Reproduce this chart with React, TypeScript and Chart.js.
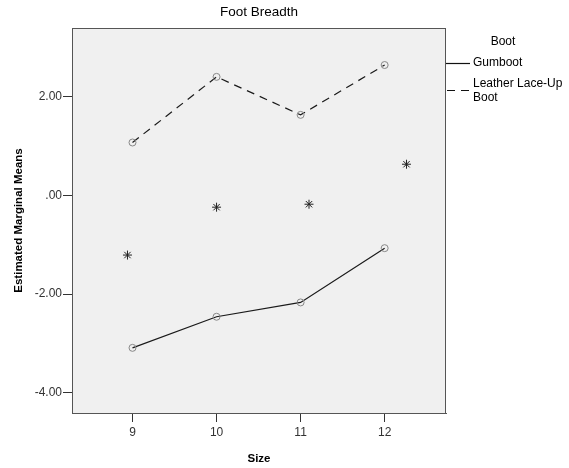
import React, { useEffect, useRef } from "react";
import { Chart, registerables } from "chart.js";

Chart.register(...registerables);

const chartTitle = "Foot Breadth";
const xAxisTitle = "Size";
const yAxisTitle = "Estimated Marginal Means";
const legendTitle = "Boot";
const seriesNames = ["Gumboot", "Leather Lace-Up Boot"];

const sizes = [9, 10, 11, 12];
const gumboot = [-3.09, -2.46, -2.17, -1.07];
const leather = [1.07, 2.4, 1.63, 2.64];
const markerX = [8.94, 10.0, 11.1, 12.26];
const markerY = [-1.21, -0.24, -0.18, 0.63];
const xTicks = [9, 10, 11, 12];
const yTicks = [-4, -2, 0, 2];
const xRange = [8.28, 12.73];
const yRange = [-4.41, 3.39];

const FONT = '"Liberation Sans", Arial, sans-serif';

function fmtY(v: number): string {
  const s = Math.abs(v).toFixed(2);
  const t = s.startsWith("0") ? s.slice(1) : s;
  return (v < 0 ? "-" : "") + t;
}

const decorPlugin = {
  id: "decor",
  beforeDraw(chart: any) {
    const { ctx, chartArea } = chart;
    ctx.save();
    ctx.fillStyle = "#ffffff";
    ctx.fillRect(0, 0, chart.width, chart.height);
    ctx.fillStyle = "#f0f0f0";
    ctx.fillRect(chartArea.left, chartArea.top, chartArea.right - chartArea.left, chartArea.bottom - chartArea.top);
    ctx.restore();
  },
  afterDraw(chart: any) {
    const { ctx, chartArea } = chart;
    ctx.save();
    // plot border
    ctx.strokeStyle = "#555555";
    ctx.lineWidth = 1;
    ctx.strokeRect(chartArea.left + 0.5, chartArea.top + 0.5, chartArea.right - chartArea.left - 1, chartArea.bottom - chartArea.top);
    // title
    ctx.fillStyle = "#000";
    ctx.font = `13.5px ${FONT}`;
    ctx.textAlign = "center";
    ctx.textBaseline = "middle";
    ctx.fillText(chartTitle, (chartArea.left + chartArea.right) / 2, 12);
    // legend
    const lx = chartArea.right;
    ctx.font = `12px ${FONT}`;
    ctx.fillText(legendTitle, lx + 57, 42);
    ctx.textAlign = "left";
    ctx.strokeStyle = "#111";
    ctx.lineWidth = 1.2;
    ctx.beginPath();
    ctx.moveTo(lx, 63.5);
    ctx.lineTo(lx + 24, 63.5);
    ctx.stroke();
    ctx.fillText(seriesNames[0], lx + 27, 63);
    ctx.setLineDash([8, 6]);
    ctx.beginPath();
    ctx.moveTo(lx + 1, 90.5);
    ctx.lineTo(lx + 24, 90.5);
    ctx.stroke();
    ctx.setLineDash([]);
    ctx.fillText("Leather Lace-Up", lx + 27, 84);
    ctx.fillText("Boot", lx + 27, 98);
    ctx.restore();
  },
};

export default function App() {
  const ref = useRef<HTMLCanvasElement | null>(null);
  useEffect(() => {
    if (!ref.current) return;
    const chart = new Chart(ref.current, {
      type: "line",
      data: {
        datasets: [
          {
            label: seriesNames[0],
            data: sizes.map((x, i) => ({ x, y: gumboot[i] })),
            borderColor: "#1a1a1a",
            borderWidth: 1.2,
            pointStyle: "circle",
            pointRadius: 3.5,
            pointBorderColor: "#888",
            pointBackgroundColor: "rgba(0,0,0,0)",
            pointBorderWidth: 1,
            tension: 0,
          },
          {
            label: seriesNames[1],
            data: sizes.map((x, i) => ({ x, y: leather[i] })),
            borderColor: "#1a1a1a",
            borderWidth: 1.2,
            borderDash: [8, 6],
            pointStyle: "circle",
            pointRadius: 3.5,
            pointBorderColor: "#888",
            pointBackgroundColor: "rgba(0,0,0,0)",
            pointBorderWidth: 1,
            tension: 0,
          },
          {
            label: "markers",
            data: markerX.map((x, i) => ({ x, y: markerY[i] })),
            showLine: false,
            pointStyle: "star",
            pointRadius: 4.5,
            pointBorderColor: "#222",
            pointBorderWidth: 1,
            borderColor: "#222",
          },
        ],
      },
      options: {
        responsive: false,
        animation: false,
        layout: { padding: { left: 0, right: 123, top: 28, bottom: 0 } },
        plugins: { legend: { display: false }, tooltip: { enabled: false }, title: { display: false } },
        scales: {
          x: {
            type: "linear",
            min: xRange[0],
            max: xRange[1],
            afterBuildTicks: (s: any) => {
              s.ticks = xTicks.map((v) => ({ value: v }));
            },
            afterFit: (s: any) => {
              s.height = 55;
            },
            ticks: {
              color: "#333",
              font: { family: FONT, size: 12 },
              padding: 3,
              maxRotation: 0,
              callback: (v: any) => String(v),
            },
            grid: { drawOnChartArea: false, drawTicks: true, tickLength: 9, color: "#333" },
            border: { display: true, color: "#555" },
            title: {
              display: true,
              text: xAxisTitle,
              color: "#000",
              font: { family: FONT, size: 11.5, weight: "bold" },
              padding: { top: 0, bottom: 2.2 },
            },
          },
          y: {
            type: "linear",
            min: yRange[0],
            max: yRange[1],
            afterBuildTicks: (s: any) => {
              s.ticks = yTicks.map((v) => ({ value: v }));
            },
            afterFit: (s: any) => {
              s.width = 72;
            },
            ticks: {
              color: "#333",
              font: { family: FONT, size: 12 },
              padding: 1,
              callback: (v: any) => fmtY(Number(v)),
            },
            grid: { drawOnChartArea: false, drawTicks: true, tickLength: 9, color: "#333" },
            border: { display: true, color: "#555" },
            title: {
              display: true,
              text: yAxisTitle,
              color: "#000",
              font: { family: FONT, size: 11.5, weight: "bold" },
              padding: { top: 11.5, bottom: 0 },
            },
          },
        },
      },
      plugins: [decorPlugin],
    } as any);
    return () => chart.destroy();
  }, []);
  return (
    <div style={{ position: "absolute", left: 0, top: 0, width: 569, height: 468 }}>
      <canvas ref={ref} width={569} height={468} style={{ width: 569, height: 468, display: "block" }} />
    </div>
  );
}
